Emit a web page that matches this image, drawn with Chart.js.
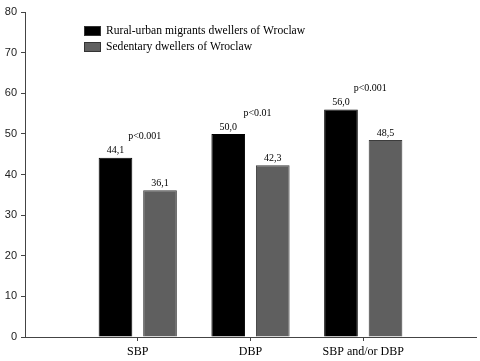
<!DOCTYPE html>
<html>
<head>
<meta charset="utf-8">
<script src="https://cdn.jsdelivr.net/npm/chart.js@4/dist/chart.umd.min.js"></script>
<style>
  html, body { margin: 0; padding: 0; background: #fff; }
  canvas { display: block; }
</style>
</head>
<body>
<canvas id="bp-chart" width="480" height="361"></canvas>
<script>
// chart data
const categories = ['SBP', 'DBP', 'SBP and/or DBP'];
const migrants = [44.1, 50.0, 56.0];
const sedentary = [36.1, 42.3, 48.5];
const pValues = ['p<0.001', 'p<0.01', 'p<0.001'];
const seriesNames = ['Rural-urban migrants dwellers of Wroclaw', 'Sedentary dwellers of Wroclaw'];
const yTicks = [0, 10, 20, 30, 40, 50, 60, 70, 80];

// empty slots at both ends so the categories sit at 1/4, 2/4, 3/4 of the axis
const labels = [''].concat(categories, ['']);
const pad = arr => [null].concat(arr, [null]);

const fmt = v => v.toFixed(1).replace('.', ',');

// legend, value labels and p-values
const annotations = {
    id: 'annotations',
    afterDatasetsDraw(chart) {
        const ctx = chart.ctx;
        const area = chart.chartArea;
        ctx.save();

        // legend
        const boxColors = ['#000000', '#5f5f5f'];
        seriesNames.forEach((name, i) => {
            const y = area.top + 14 + i * 16;
            ctx.fillStyle = boxColors[i];
            ctx.fillRect(area.left + 59, y, 17, 10);
            ctx.strokeStyle = '#333';
            ctx.lineWidth = 1;
            ctx.strokeRect(area.left + 59.5, y + 0.5, 16, 9);
            ctx.fillStyle = '#000';
            ctx.font = '11.6px "Liberation Serif", serif';
            ctx.textAlign = 'left';
            ctx.textBaseline = 'middle';
            ctx.fillText(name, area.left + 81, y + 5);
        });

        // values above bars
        ctx.font = '10px "Liberation Serif", serif';
        ctx.textAlign = 'center';
        ctx.textBaseline = 'middle';
        ctx.fillStyle = '#000';
        chart.data.datasets.forEach((ds, di) => {
            const meta = chart.getDatasetMeta(di);
            meta.data.forEach((bar, i) => {
                const v = ds.data[i];
                if (v === null) return;
                ctx.fillText(fmt(v), bar.x, bar.y - 7);
            });
        });

        // p-values above each group
        const xScale = chart.scales.x;
        const yScale = chart.scales.y;
        pValues.forEach((p, i) => {
            const x = xScale.getPixelForValue(i + 1) + 7;
            const y = yScale.getPixelForValue(migrants[i]) - 21;
            ctx.fillText(p, x, y);
        });
        ctx.restore();
    }
};

const ctx = document.getElementById('bp-chart').getContext('2d');
const bpChart = new Chart(ctx, {
    type: 'bar',
    data: {
        labels: labels,
        datasets: [{
            label: seriesNames[0],
            data: pad(migrants),
            backgroundColor: '#000000',
            borderColor: '#000000',
            borderWidth: 1,
            categoryPercentage: 0.79,
            barPercentage: 0.756
        }, {
            label: seriesNames[1],
            data: pad(sedentary),
            backgroundColor: '#5f5f5f',
            borderColor: '#3c3c3c',
            borderWidth: 1,
            categoryPercentage: 0.79,
            barPercentage: 0.756
        }]
    },
    options: {
        responsive: false,
        animation: false,
        layout: { padding: { top: 12, right: 0, bottom: 0, left: 0 } },
        plugins: {
            legend: { display: false },
            tooltip: { enabled: false }
        },
        scales: {
            x: {
                offset: false,
                grid: {
                    offset: false,
                    drawOnChartArea: false,
                    tickLength: 4,
                    tickColor: c => (c.tick && c.tick.label === '' ? 'rgba(0,0,0,0)' : '#444')
                },
                border: { color: '#444', width: 1 },
                ticks: {
                    autoSkip: false,
                    maxRotation: 0,
                    padding: 4,
                    color: '#000',
                    font: { family: '"Liberation Serif", serif', size: 12 }
                },
                afterFit: scale => { scale.height = 24; }
            },
            y: {
                min: yTicks[0],
                max: yTicks[yTicks.length - 1],
                grid: { drawOnChartArea: false, tickLength: 4, tickColor: '#444' },
                border: { color: '#444', width: 1 },
                ticks: {
                    stepSize: yTicks[1] - yTicks[0],
                    autoSkip: false,
                    padding: 4,
                    color: '#222',
                    font: { family: '"Liberation Sans", Arial, sans-serif', size: 11 }
                },
                afterFit: scale => { scale.width = 25; }
            }
        }
    },
    plugins: [annotations]
});
</script>
</body>
</html>
